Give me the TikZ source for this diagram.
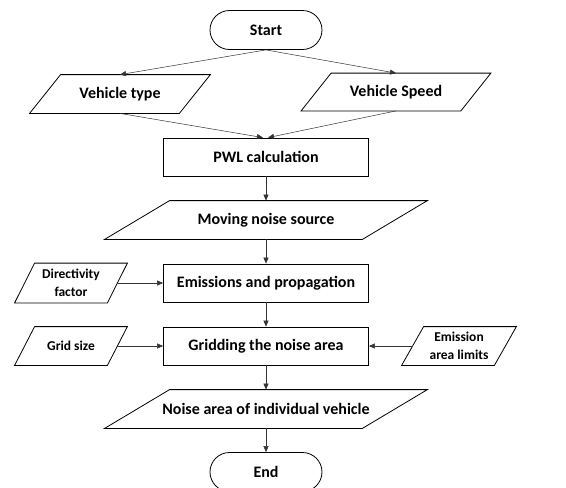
\documentclass[tikz,border=0pt]{standalone}
\usepackage{fontspec}
\setmainfont{Carlito}
\usetikzlibrary{shapes.misc, positioning, arrows.meta}

% parallelogram round a plain node: name, half slant
\newcommand{\ioframe}[2]{%
  \draw ([xshift=-#2]#1.south west) -- ([xshift=#2]#1.north west)
    -- ([xshift=#2]#1.north east) -- ([xshift=-#2]#1.south east) -- cycle;}

\begin{document}
\begin{tikzpicture}[x=1pt, y=-1pt, line width=0.8pt,
    every node/.style={font=\bfseries\fontsize{16}{19}\selectfont, inner sep=0pt},
    term/.style={rounded rectangle, draw, minimum width=112pt, minimum height=39pt},
    proc/.style={rectangle, draw, minimum width=205pt, minimum height=38pt},
    io/.style={rectangle, minimum height=38pt},
    small/.style={font=\bfseries\fontsize{13.5}{18}\selectfont, align=center},
    flow/.style={-{Triangle[length=6pt, width=5pt]}, draw=black!80, line width=0.5pt}]
    \useasboundingbox (0,0) rectangle (566,488);

    \node[term] (start) at (266,30) {Start};
    \node[io, minimum width=149pt] (vtype) at (120,94) {Vehicle type};
    \node[io, minimum width=159pt, minimum height=37pt] (vspeed) at (396,92) {Vehicle Speed};
    \node[proc] (pwl) at (266,157) {PWL calculation};
    \node[io, minimum width=257pt] (source) at (266,220) {Moving noise source};
    \node[proc] (emis) at (266,283) {Emissions and propagation};
    \node[io, small, minimum width=92pt, minimum height=39pt] (direct) at (71,283) {Directivity\\factor};
    \node[proc] (grid) at (266,346) {Gridding the noise area};
    \node[io, small, minimum width=92pt] (gsize) at (71,346) {Grid size};
    \node[io, small, minimum width=92pt] (limits) at (459,346) {Emission\\area limits};
    \node[io, minimum width=257pt] (area) at (266,409) {Noise area of individual vehicle};
    \node[term] (end) at (266,472) {End};

    \ioframe{vtype}{15.5}
    \ioframe{vspeed}{15}
    \ioframe{source}{32.5}
    \ioframe{direct}{10}
    \ioframe{gsize}{10}
    \ioframe{limits}{11}
    \ioframe{area}{32.5}

    \draw[flow] (start.south) -- (vtype.north);
    \draw[flow] (start.south) -- (vspeed.north);
    \draw[flow] (vtype.south) -- ([xshift=-3pt]pwl.north);
    \draw[flow] (vspeed.south) -- ([xshift=2pt]pwl.north);
    \draw[flow] (pwl) -- (source);
    \draw[flow] (source) -- (emis);
    \draw[flow] (direct) -- (emis);
    \draw[flow] (emis) -- (grid);
    \draw[flow] (gsize) -- (grid);
    \draw[flow] (limits) -- (grid);
    \draw[flow] (grid) -- (area);
    \draw[flow] (area) -- (end);
\end{tikzpicture}
\end{document}
